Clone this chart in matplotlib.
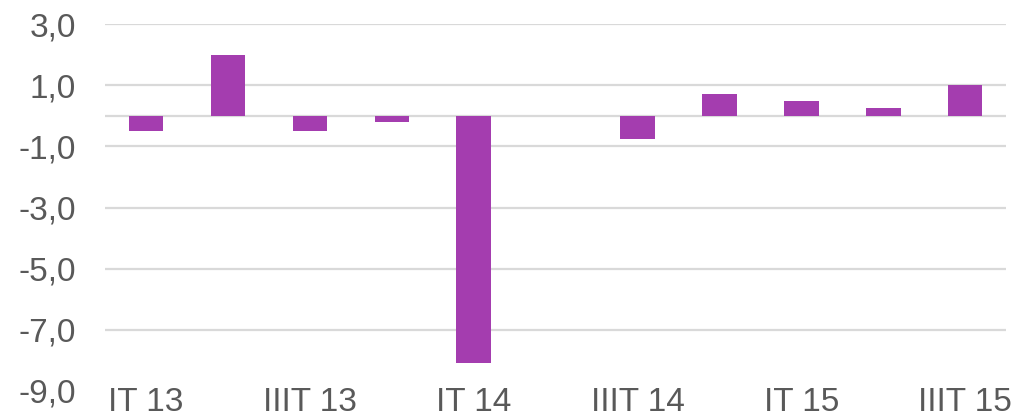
from __future__ import annotations

import matplotlib

matplotlib.use("Agg")
import matplotlib.pyplot as plt
import matplotlib.transforms as mtransforms
from matplotlib.ticker import FuncFormatter

categories = [
    "IT 13", "IIT 13", "IIIT 13", "IVT 13",
    "IT 14", "IIT 14", "IIIT 14", "IVT 14",
    "IT 15", "IIT 15", "IIIT 15",
]
values = [-0.5, 2.0, -0.5, -0.2, -8.1, 0.0, -0.75, 0.7, 0.5, 0.25, 1.0]
y_ticks = [3, 1, -1, -3, -5, -7, -9]

BAR_COLOR = "#a43daf"
GRID_COLOR = "#d9d9d9"
TEXT_COLOR = "#595959"


def main() -> None:
    plt.rcParams["font.family"] = ["Liberation Sans", "DejaVu Sans"]
    fig = plt.figure(figsize=(10.32, 4.17), dpi=100)
    ax = fig.add_axes([0.1017, 0.0624, 0.8733, 0.8796])

    x = list(range(len(categories)))
    ax.bar(x, values, width=0.42, color=BAR_COLOR, zorder=3)

    ax.set_xlim(-0.5, len(categories) - 0.5)
    ax.set_ylim(-9, 3)
    ax.set_yticks(y_ticks)
    ax.yaxis.set_major_formatter(FuncFormatter(lambda v, _: f"{v:.1f}".replace(".", ",")))

    for yv in y_ticks[:-1]:
        ax.axhline(yv, color=GRID_COLOR, linewidth=1.6, zorder=1)
    ax.axhline(0, color=GRID_COLOR, linewidth=1.6, zorder=2)

    shown = list(range(0, len(categories), 2))
    ax.set_xticks(shown)
    ax.set_xticklabels([categories[i] for i in shown])
    offset = mtransforms.ScaledTranslation(0.13, 0, fig.dpi_scale_trans)
    for label in ax.get_xticklabels():
        label.set_transform(label.get_transform() + offset)

    ax.tick_params(axis="both", length=0, labelsize=24, colors=TEXT_COLOR)
    ax.tick_params(axis="x", pad=-3)
    ax.tick_params(axis="y", pad=21)

    for spine in ax.spines.values():
        spine.set_visible(False)

    fig.savefig("out.png", dpi=100)
    plt.close(fig)


if __name__ == "__main__":
    main()
